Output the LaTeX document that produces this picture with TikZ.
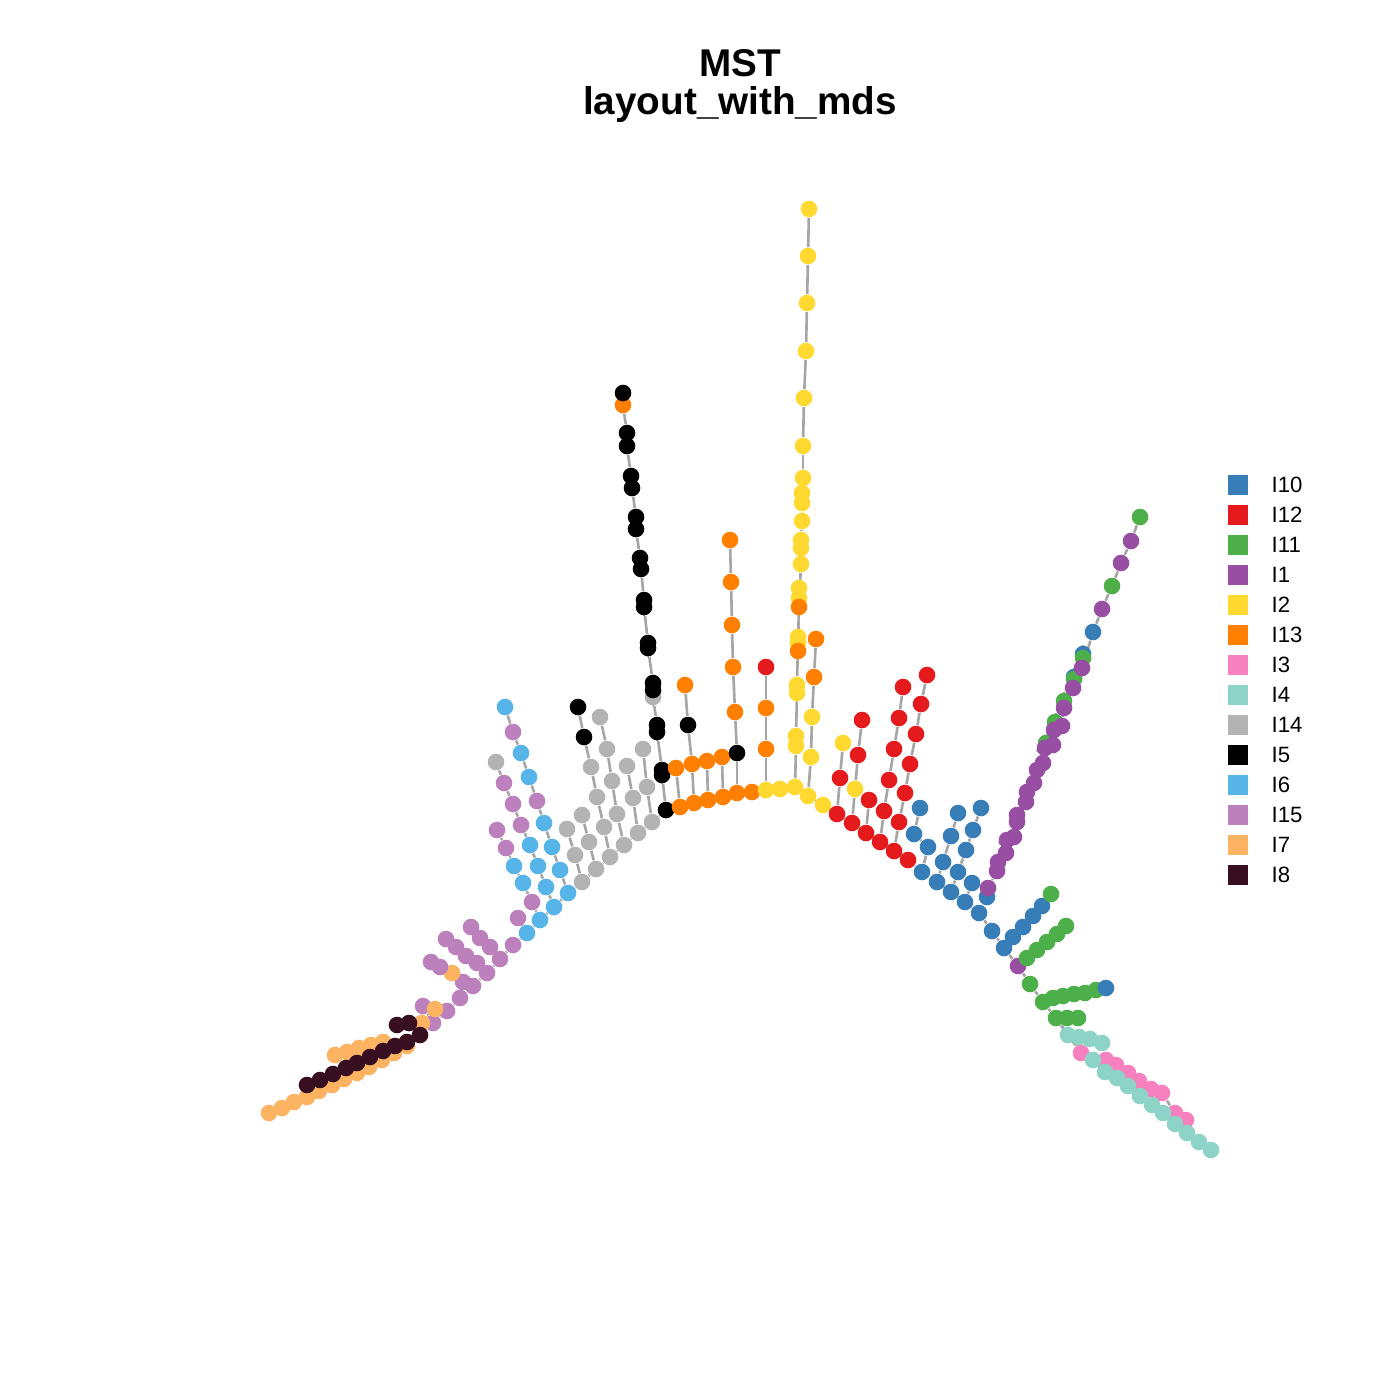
\documentclass[tikz,border=0pt]{standalone}
\usepackage[dvipsnames]{xcolor}
\usepackage{fontspec}
\setmainfont{Liberation Sans}
\usepackage{tikz}

\definecolor{c10}{HTML}{377EB8}
\definecolor{c12}{HTML}{E41A1C}
\definecolor{c11}{HTML}{4DAF4A}
\definecolor{c1}{HTML}{984EA3}
\definecolor{c2}{HTML}{FFD92F}
\definecolor{c13}{HTML}{FF7F00}
\definecolor{c3}{HTML}{F781BF}
\definecolor{c4}{HTML}{8DD3C7}
\definecolor{c14}{HTML}{B3B3B3}
\definecolor{c5}{HTML}{000000}
\definecolor{c6}{HTML}{56B4E9}
\definecolor{c15}{HTML}{BC80BD}
\definecolor{c7}{HTML}{FDB462}
\definecolor{c8}{HTML}{370F21}
\definecolor{edgegray}{HTML}{A6A6A6}

\pgfdeclarelayer{edges}
\pgfsetlayers{edges,main}

\tikzset{
  mstdot/.style={circle, fill=#1, inner sep=0pt, minimum size=1.66mm},
  mstedge/.style={draw=edgegray, line width=0.75pt},
  legbox/.style={fill=#1, inner sep=0pt, minimum size=2mm},
  legtext/.style={anchor=west, inner sep=0pt, font=\fontsize{6.3}{7}\selectfont},
  titletext/.style={anchor=base, inner sep=0pt, font=\bfseries\fontsize{11}{13}\selectfont},
}

% chain of vertices: name, vertex it hangs from, list x/y/colour
% (edges are collected and drawn once, under the dots)
\gdef\mstedgecmds{}
\newcommand{\mstchain}[3]{%
  \def\mststart{#2}%
  \foreach \px/\py/\cc [count=\i] in {#3}{%
    \node[mstdot=\cc] (#1-\i) at (\px,\py) {};
    \pgfmathtruncatemacro{\j}{\i-1}%
    \ifnum\i=1
      \ifx\mststart\empty\else
        \xdef\mstedgecmds{\unexpanded\expandafter{\mstedgecmds}\noexpand\draw[mstedge] (#2) -- (#1-1);}%
      \fi
    \else
      \xdef\mstedgecmds{\unexpanded\expandafter{\mstedgecmds}\noexpand\draw[mstedge] (#1-\j) -- (#1-\i);}%
    \fi
  }}

\begin{document}
\begin{tikzpicture}[x=0.01cm, y=-0.01cm]
\useasboundingbox (0,0) rectangle (1400,1400);

\node[titletext] (title1) at (740,77) {MST};
\node[titletext] (title2) at (740,115) {layout\_with\_mds};

% main arc
\mstchain{sp}{}{433/1023/c15, 447/1011/c15, 460/998/c15, 473/986/c15, 487/973/c15, 500/959/c15, 513/945/c15,
  527/933/c6, 540/920/c6, 554/907/c6, 568/893/c6, 582/882/c14, 596/869/c14, 610/857/c14, 624/845/c14,
  638/833/c14, 652/822/c14, 666/810/c5, 680/807/c13, 694/803/c13, 708/800/c13, 723/797/c13, 737/793/c13,
  752/792/c13, 766/790/c2, 780/789/c2, 795/787/c2, 808/796/c2, 823/805/c2, 837/814/c12, 852/823/c12,
  866/833/c12, 880/842/c12, 894/851/c12, 908/860/c12, 922/872/c10, 937/882/c10, 951/892/c10, 965/902/c10,
  979/913/c10, 992/931/c10, 1004/948/c10, 1018/966/c1, 1030/984/c11, 1043/1002/c11, 1056/1018/c11}

% lower left
\mstchain{lo}{sp-1}{422/1023/c7, 407/1046/c7, 394/1053/c7, 382/1060/c7, 369/1067/c7, 357/1073/c7, 344/1079/c7,
  332/1085/c7, 319/1091/c7, 307/1097/c7, 294/1102/c7, 282/1108/c7, 269/1113/c7}
\mstchain{lu}{lo-3}{383/1042/c7, 371/1045/c7, 359/1048/c7, 347/1052/c7, 335/1055/c7}
\mstchain{dk}{sp-1}{420/1035/c8, 407/1042/c8, 395/1046/c8, 383/1051/c8, 370/1057/c8, 357/1063/c8, 346/1068/c8,
  333/1074/c8, 320/1080/c8, 307/1085/c8}
\mstchain{dkb}{dk-1}{409/1023/c8, 397/1025/c8}
\mstchain{pa}{sp-1}{423/1006/c15}
\mstchain{oo}{sp-2}{435/1009/c7}
\mstchain{pA}{sp-6}{490/947/c15, 480/938/c15, 471/927/c15}
\mstchain{pB}{sp-5}{477/963/c15, 466/956/c15, 456/947/c15, 446/939/c15}
\mstchain{pC}{sp-4}{463/982/c15, 452/973/c7, 440/967/c15, 431/962/c15}

% left arm
\mstchain{pl}{sp-8}{518/918/c15}
\mstchain{la}{sp-11}{560/870/c6, 552/847/c6, 544/823/c6, 537/801/c15, 529/777/c6, 521/753/c6, 513/732/c15, 505/707/c6}
\mstchain{lb}{sp-10}{546/887/c6, 538/866/c6, 530/845/c6, 521/825/c15, 513/804/c15, 504/783/c15, 496/762/c14}
\mstchain{lc}{sp-9}{532/902/c15, 523/883/c6, 514/866/c6, 506/848/c15, 497/830/c15}
\mstchain{ga}{sp-12}{575/855/c14, 567/829/c14}
\mstchain{gb}{sp-13}{589/842/c14, 582/815/c14}
\mstchain{gc}{sp-14}{604/827/c14, 597/797/c14, 591/767/c14, 584/737/c5, 578/707/c5}
\mstchain{gd}{sp-15}{617/814/c14, 612/781/c14, 607/749/c14, 600/717/c14}
\mstchain{ge}{sp-16}{633/798/c14, 627/766/c14}
\mstchain{gf}{sp-17}{647/787/c14, 643/749/c14}
\mstchain{bk}{sp-18}{662/775/c5, 662/770/c5, 657/732/c5, 657/725/c5, 653/697/c14, 653/690/c5, 653/683/c5,
  648/648/c5, 648/643/c5, 644/607/c5, 644/600/c5, 641/569/c5, 640/558/c5, 636/529/c5, 636/517/c5,
  632/488/c5, 631/476/c5, 627/446/c5, 627/433/c5, 623/405/c13, 623/393/c5}

% top
\mstchain{oa}{sp-19}{676/768/c13}
\mstchain{ob}{sp-20}{692/764/c13, 688/725/c5, 685/685/c13}
\mstchain{oc}{sp-21}{707/761/c13}
\mstchain{od}{sp-22}{722/757/c13}
\mstchain{oe}{sp-23}{737/753/c5, 735/712/c13, 733/667/c13, 732/625/c13, 731/582/c13, 730/540/c13}
\mstchain{ra}{sp-25}{766/749/c13, 766/708/c13, 766/667/c12}
\mstchain{ya}{sp-27}{796/746/c2, 796/736/c2, 797/693/c2, 797/685/c2, 798/643/c2, 798/637/c2, 798/651/c13,
  799/598/c2, 799/588/c2, 799/607/c13, 801/564/c2, 801/548/c2, 801/540/c2, 802/521/c2, 802/503/c2,
  802/493/c2, 803/478/c2, 803/446/c2, 804/398/c2, 806/351/c2, 807/303/c2, 808/256/c2, 809/209/c2}
\mstchain{yb}{sp-28}{811/757/c2, 812/717/c2, 814/677/c13, 816/639/c13}

% right arm
\mstchain{rb}{sp-30}{840/778/c12, 843/743/c2}
\mstchain{rc}{sp-31}{855/789/c2, 858/755/c12, 862/720/c12}
\mstchain{rd}{sp-32}{869/800/c12}
\mstchain{re}{sp-33}{884/811/c12, 889/780/c12, 894/749/c12, 899/718/c12, 903/687/c12}
\mstchain{rf}{sp-34}{899/822/c12, 905/793/c12, 910/764/c12, 916/734/c12, 921/704/c12, 927/675/c12}
\mstchain{ba}{sp-36}{928/847/c10, 914/834/c10, 920/808/c10}
\mstchain{bb}{sp-37}{943/862/c10, 951/836/c10, 958/813/c10}
\mstchain{bc}{sp-38}{958/872/c10, 966/850/c10, 973/830/c10, 981/808/c10}
\mstchain{bd}{sp-39}{972/883/c10}
\mstchain{pu}{sp-40}{987/897/c10, 988/888/c1, 997/871/c1, 998/862/c1, 1006/853/c1, 1007/840/c1, 1014/837/c1,
  1017/822/c1, 1017/815/c1, 1026/802/c1, 1027/792/c1, 1034/783/c1, 1037/770/c1, 1043/763/c1,
  1046/743/c11, 1045/748/c1, 1053/745/c1, 1055/722/c11, 1054/730/c1, 1062/726/c1, 1064/701/c11,
  1064/708/c1, 1074/677/c10, 1074/679/c11, 1073/688/c1, 1083/654/c10, 1083/658/c11, 1082/668/c1,
  1093/632/c10, 1102/609/c1, 1112/586/c11, 1121/563/c1, 1131/541/c1, 1140/517/c11}
\mstchain{gg}{sp-42}{1013/937/c10, 1023/927/c10, 1033/916/c10, 1042/906/c10, 1051/894/c11}
\mstchain{gh}{sp-43}{1027/958/c11, 1037/950/c11, 1047/942/c11, 1057/934/c11, 1066/926/c11}
\mstchain{gi}{sp-45}{1053/998/c11, 1063/996/c11, 1074/994/c11, 1085/993/c11, 1096/990/c11, 1106/988/c10}
\mstchain{gj}{sp-46}{1067/1018/c11, 1078/1018/c11}

% lower right
\mstchain{pk}{sp-46}{1081/1053/c3, 1106/1060/c3, 1116/1065/c3, 1128/1073/c3, 1139/1081/c3, 1151/1089/c3,
  1162/1093/c3, 1175/1113/c3, 1186/1120/c3}
\mstchain{ta}{sp-46}{1068/1035/c4, 1079/1037/c4, 1090/1039/c4, 1102/1043/c4}
\mstchain{tb}{ta-1}{1093/1060/c4, 1105/1072/c4, 1117/1078/c4, 1128/1086/c4, 1140/1096/c4, 1152/1105/c4,
  1163/1113/c4, 1175/1124/c4, 1187/1133/c4, 1199/1142/c4, 1211/1150/c4}

\begin{pgfonlayer}{edges}
\mstedgecmds
\end{pgfonlayer}

% legend
\foreach \cc/\lab [count=\k] in {c10/I10, c12/I12, c11/I11, c1/I1, c2/I2, c13/I13, c3/I3, c4/I4,
    c14/I14, c5/I5, c6/I6, c15/I15, c7/I7, c8/I8}{
  \node[legbox=\cc] (key-\k) at (1238,455+30*\k) {};
  \node[legtext] (lab-\k) at (1271,455+30*\k) {\lab};
}
\end{tikzpicture}
\end{document}
